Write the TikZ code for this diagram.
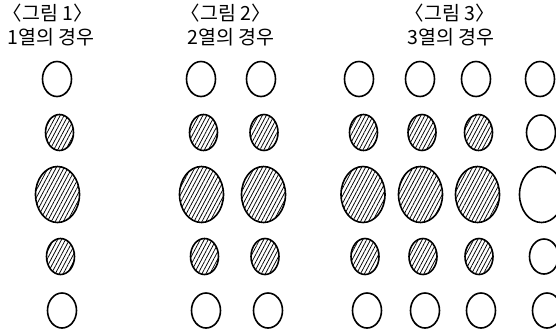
\documentclass[tikz,border=0pt]{standalone}
\usepackage{fontspec}
\newfontfamily\kr{Noto Sans CJK KR}
\usetikzlibrary{shapes.geometric,patterns.meta}
\begin{document}
\begin{tikzpicture}[x=1pt,y=-1pt,
  every node/.style={inner sep=0pt},
  ttl/.style={font=\kr\fontsize{19.5}{20}\selectfont, anchor=center},
  wsmall/.style={ellipse, draw, line width=1.6pt, minimum width=29pt, minimum height=35pt},
  hsmall/.style={ellipse, draw, line width=1.6pt, minimum width=28pt, minimum height=36pt,
     pattern={Lines[angle=62,distance=3.5pt,line width=0.75pt]}},
  hbig/.style={ellipse, draw, line width=1.6pt, minimum width=44pt, minimum height=56pt,
     pattern={Lines[angle=62,distance=3.5pt,line width=0.75pt]}},
  wbig/.style={ellipse, draw, line width=1.6pt, minimum width=44pt, minimum height=56pt}]
\useasboundingbox (0,0) rectangle (556,333);
\clip (0,0) rectangle (556,333);
% titles
\node[ttl] (t1a) at (48,13) {〈그림 1〉};
\node[ttl] (t1b) at (51,37) {1열의 경우};
\node[ttl] (t2a) at (226,13) {〈그림 2〉};
\node[ttl] (t2b) at (231,37) {2열의 경우};
\node[ttl] (t3a) at (450,13) {〈그림 3〉};
\node[ttl] (t3b) at (451,37) {3열의 경우};
% columns: name / x of rows 1..5
\foreach \n/\xa/\xb/\xc/\xd/\xe in {a/57/59.5/57.5/60.5/62, b/201/203.5/201.5/204.5/206,
    c/261/264/263.5/265/268, d/359/363.5/363/365/367, e/420/422/420.5/423/425,
    f/476/478.5/477.5/479/481}{
  \node[wsmall] (\n1) at (\xa,79) {};
  \node[hsmall] (\n2) at (\xb,132.5) {};
  \node[hbig]   (\n3) at (\xc,194.5) {};
  \node[hsmall] (\n4) at (\xd,256.5) {};
  \node[wsmall] (\n5) at (\xe,310.5) {};
}
\node[wsmall] (g1) at (540,79) {};
\node[wsmall] (g2) at (541,132.5) {};
\node[wbig]   (g3) at (541.5,194.5) {};
\node[wsmall] (g4) at (544,256.5) {};
\node[wsmall] (g5) at (547,310.5) {};
\end{tikzpicture}
\end{document}
